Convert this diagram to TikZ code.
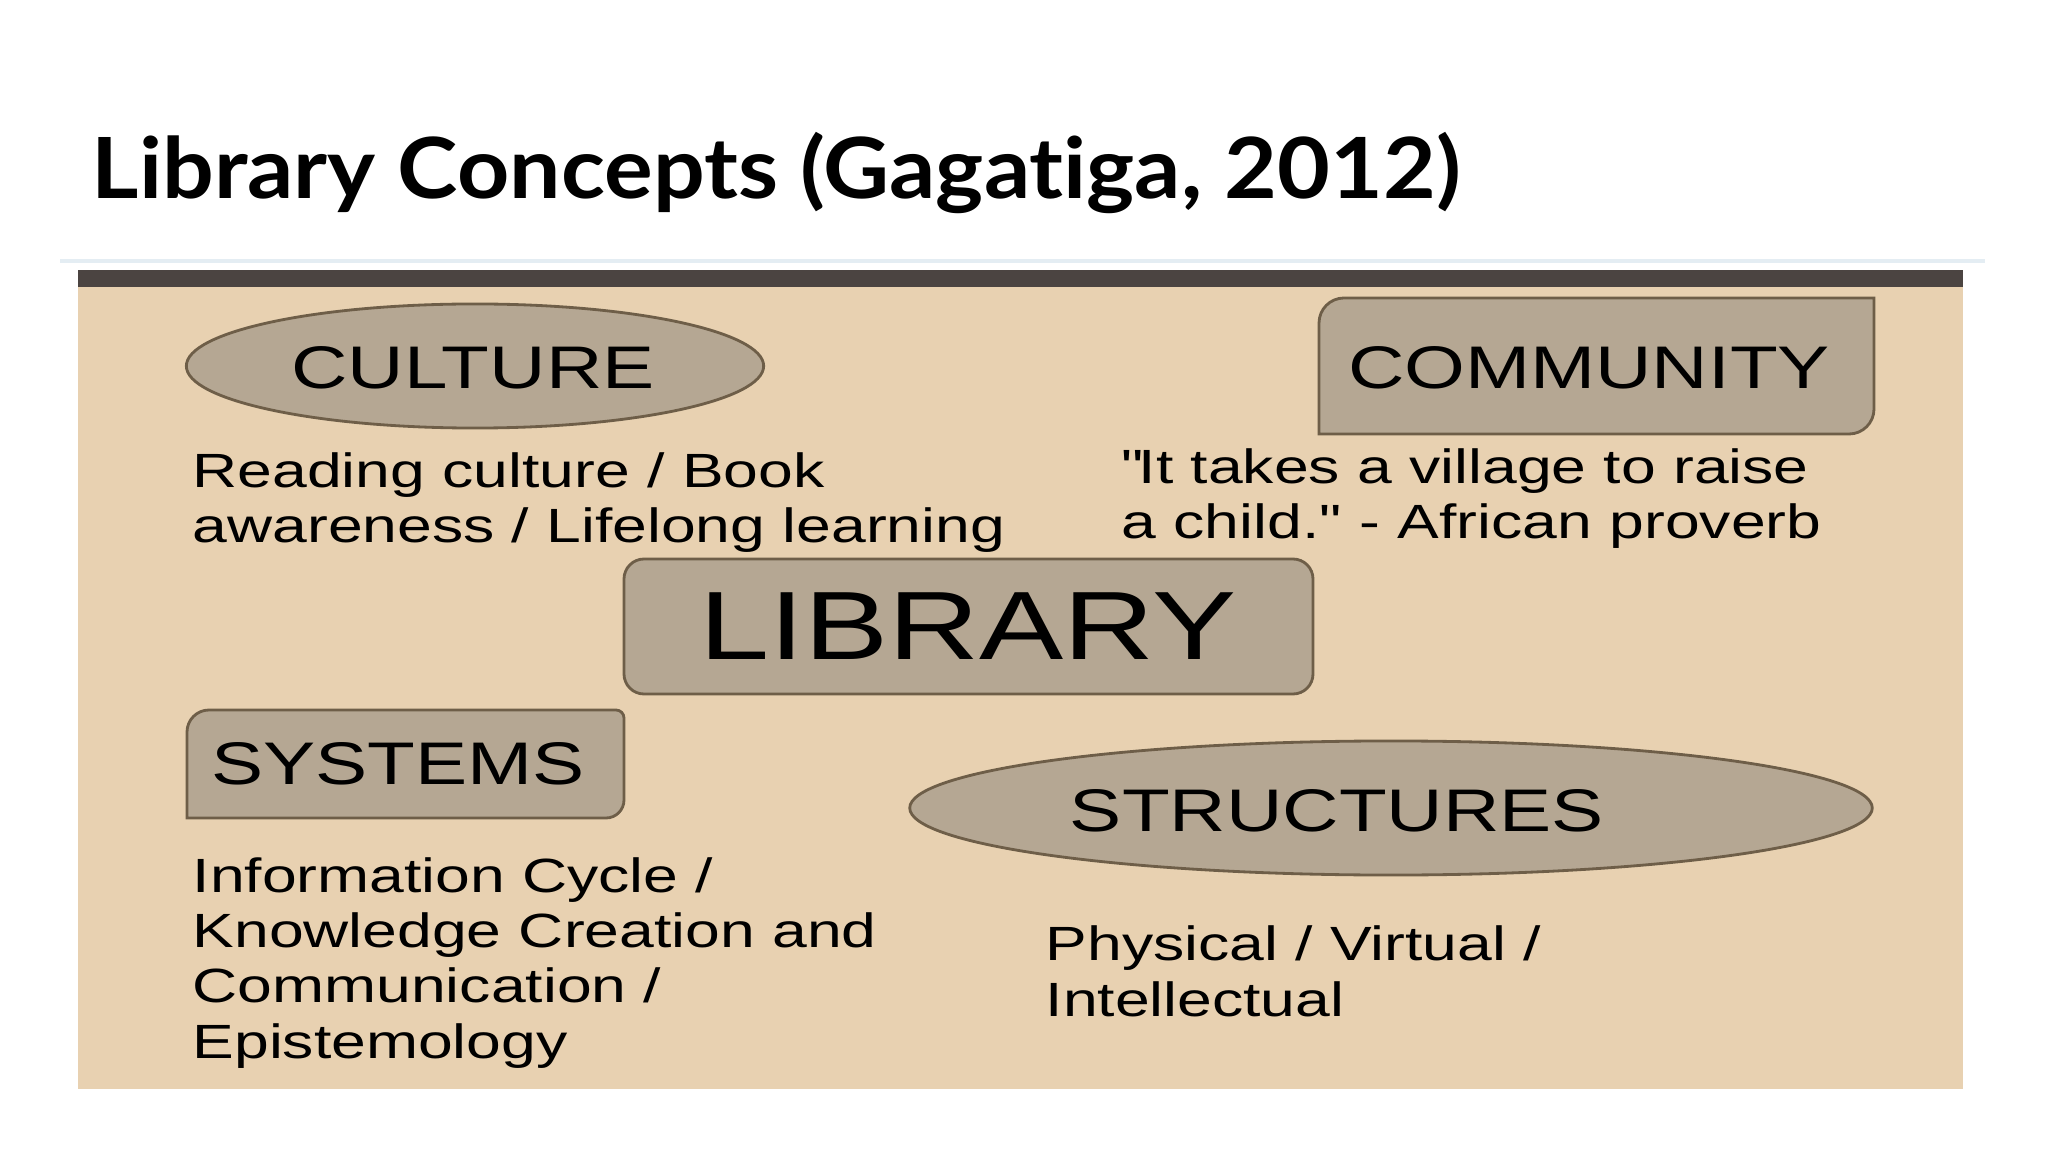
\documentclass[tikz,border=0pt]{standalone}
\usepackage{fontspec}
\setmainfont{Liberation Sans}[FakeStretch=1.3]
\newfontfamily\titlefont{Lato}[FakeStretch=1.08,Ligatures=NoCommon]
\usepackage{tikz}
\usetikzlibrary{shapes.geometric}
\definecolor{paneltan}{HTML}{E8D1B1}
\definecolor{shapetan}{HTML}{B5A793}
\definecolor{shapeline}{HTML}{6E5E48}
\definecolor{topbar}{HTML}{4B4441}
\definecolor{rulegrey}{HTML}{E4EDF3}
\tikzstyle{shapebox} = [fill=shapetan,draw=shapeline,line width=0.8pt]
\tikzstyle{heading} = [inner sep=0pt,font=\fontsize{17.1pt}{20pt}\selectfont]
\tikzset{desc/.style={anchor=base west,inner sep=0pt,align=left,
    font=\fontsize{13.66pt}{15.65pt}\selectfont}}

\begin{document}
\begin{tikzpicture}[x=0.01cm,y=-0.01cm]
\useasboundingbox (0,0) rectangle (2048,1152);
\fill[white] (0,0) rectangle (2048,1152);

% title
\node[anchor=base west,inner sep=0pt,font=\titlefont\bfseries\fontsize{24pt}{28pt}\selectfont] (title) at (91,199) {Library Concepts (Gagatiga, 2012)};
\draw[rulegrey,line width=1pt] (60,261) -- (1985,261);

% panel
\fill[paneltan] (78,270) rectangle (1963,1089);
\fill[topbar] (78,270) rectangle (1963,287);

% shapes
\node[shapebox,ellipse,minimum width=5.77cm,minimum height=1.24cm] (cultureshape) at (475,366) {};
\node[shapebox,ellipse,minimum width=9.62cm,minimum height=1.34cm] (structshape) at (1391,808) {};
\draw[shapebox] (1319,434) -- (1319,323) arc[start angle=180,end angle=90,radius=0.25cm]
    -- (1874,298) -- (1874,409) arc[start angle=0,end angle=-90,radius=0.25cm] -- cycle;
\draw[shapebox] (187,818) -- (187,732) arc[start angle=180,end angle=90,radius=0.22cm]
    -- (616,710) arc[start angle=90,end angle=0,radius=0.08cm]
    -- (624,800) arc[start angle=0,end angle=-90,radius=0.18cm] -- cycle;
\draw[shapebox,rounded corners=0.2cm] (624,559) rectangle (1313,694);

% labels
\node[heading] (culture) at (473,368) {CULTURE};
\node[heading] (community) at (1589,368) {COMMUNITY};
\node[inner sep=0pt,font=\fontsize{27.6pt}{30pt}\selectfont] (library) at (968,626) {LIBRARY};
\node[heading] (systems) at (398,764) {SYSTEMS};
\node[heading] (structures) at (1337,811) {STRUCTURES};

% descriptions (base is at the last line)
\node[desc] (culturetxt) at (192,543) {Reading culture / Book\\awareness / Lifelong learning};
\node[desc] (communitytxt) at (1121,539) {\textquotedbl It takes a village to raise\\a child.\textquotedbl{} - African proverb};
\node[desc] (systemstxt) at (192,1058) {Information Cycle /\\Knowledge Creation and\\Communication /\\Epistemology};
\node[desc] (structurestxt) at (1045,1016) {Physical / Virtual /\\Intellectual};
\end{tikzpicture}
\end{document}
